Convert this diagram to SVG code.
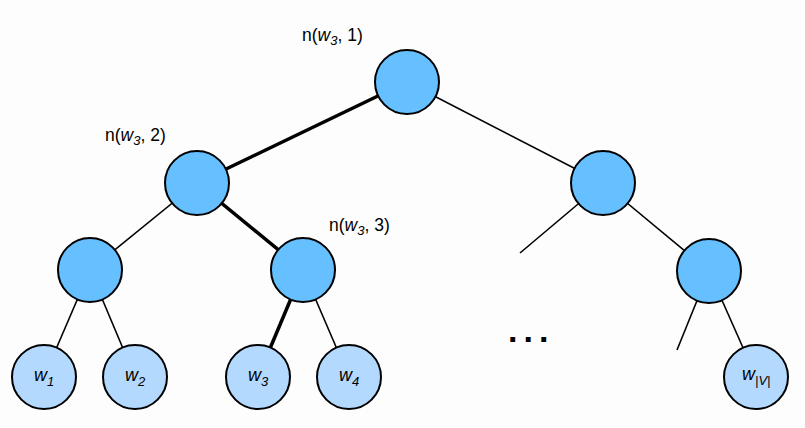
<svg xmlns="http://www.w3.org/2000/svg" width="805" height="428" viewBox="0 0 805 428">
<style>
.inner{fill:#66bfff;stroke:#000;stroke-width:2}
.leaf{fill:#b3d9ff;stroke:#000;stroke-width:2}
.e{stroke:#000;stroke-width:1.6;fill:none}
.eb{stroke:#000;stroke-width:3.5;fill:none}
text{font-family:"Liberation Sans",Arial,sans-serif;fill:#000}
.lbl{font-size:17.5px}
.w{font-size:18px;font-style:italic}
.it{font-style:italic}
</style>
<rect width="805" height="428" fill="#fdfdfd"/>
<g id="connectors">
<line class="eb" x1="407" y1="82" x2="197" y2="183"/>
<line class="e" x1="407" y1="82" x2="603" y2="183"/>
<line class="e" x1="197" y1="183" x2="90" y2="270"/>
<line class="eb" x1="197" y1="183" x2="303" y2="270"/>
<line class="e" x1="90" y1="270" x2="44" y2="377"/>
<line class="e" x1="90" y1="270" x2="135" y2="377"/>
<line class="eb" x1="303" y1="270" x2="258" y2="377"/>
<line class="e" x1="303" y1="270" x2="349" y2="377"/>
<line class="e" x1="603" y1="183" x2="520" y2="253"/>
<line class="e" x1="603" y1="183" x2="709" y2="271"/>
<line class="e" x1="709" y1="271" x2="677" y2="350"/>
<line class="e" x1="709" y1="271" x2="756" y2="377"/>
</g>
<g id="n1"><circle class="inner" cx="407" cy="82" r="32"/>
<text class="lbl" x="302" y="41">n(<tspan class="it">w</tspan><tspan class="it" font-size="13" dy="4">3</tspan><tspan dy="-4">, 1)</tspan></text></g>
<g id="n2"><circle class="inner" cx="197" cy="183" r="32"/>
<text class="lbl" x="105" y="141">n(<tspan class="it">w</tspan><tspan class="it" font-size="13" dy="4">3</tspan><tspan dy="-4">, 2)</tspan></text></g>
<g id="n2r"><circle class="inner" cx="603" cy="183" r="32"/></g>
<g id="n3l"><circle class="inner" cx="90" cy="270" r="32"/></g>
<g id="n3"><circle class="inner" cx="303" cy="270" r="32"/>
<text class="lbl" x="329" y="231">n(<tspan class="it">w</tspan><tspan class="it" font-size="13" dy="4">3</tspan><tspan dy="-4">, 3)</tspan></text></g>
<g id="n3r"><circle class="inner" cx="709" cy="271" r="32"/></g>
<g id="w1"><circle class="leaf" cx="44" cy="377" r="32"/><text class="w" x="34" y="381">w<tspan font-size="13" dy="5">1</tspan></text></g>
<g id="w2"><circle class="leaf" cx="135" cy="377" r="32"/><text class="w" x="125" y="381">w<tspan font-size="13" dy="5">2</tspan></text></g>
<g id="w3"><circle class="leaf" cx="258" cy="377" r="32"/><text class="w" x="248" y="381">w<tspan font-size="13" dy="5">3</tspan></text></g>
<g id="w4"><circle class="leaf" cx="349" cy="377" r="32"/><text class="w" x="339" y="381">w<tspan font-size="13" dy="5">4</tspan></text></g>
<g id="wV"><circle class="leaf" cx="756" cy="377" r="32"/><text class="w" x="742" y="380">w<tspan font-size="13" dy="5">|V|</tspan></text></g>
<g id="dots"><text x="508" y="342" font-size="34" font-weight="bold" letter-spacing="6">...</text></g>
</svg>
